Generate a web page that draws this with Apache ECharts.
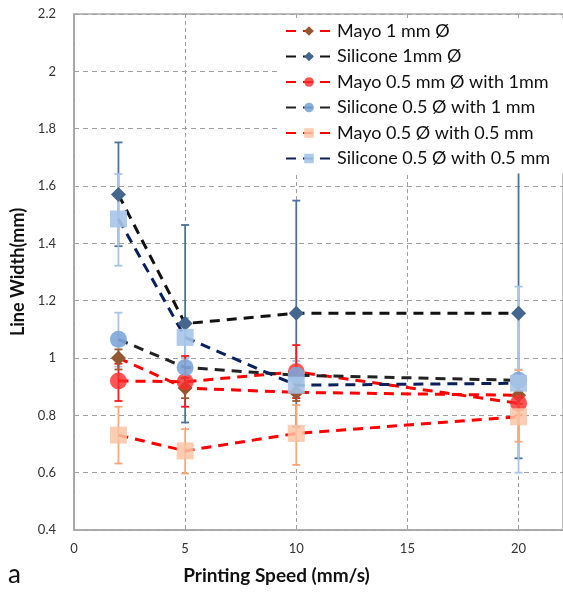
<!DOCTYPE html>
<html>
<head>
<meta charset="utf-8">
<script src="https://cdn.jsdelivr.net/npm/echarts@6/dist/echarts.min.js"></script>
<style>
  html, body { margin: 0; padding: 0; background: #fff; }
  #chart { width: 563px; height: 592px; }
</style>
</head>
<body>
<div id="chart"></div>
<script>
// printing speeds (mm/s)
const speeds = [2, 5, 10, 20];

// mean line widths (mm)
const mayo1mm = [1.0, 0.895, 0.88, 0.87];
const silicone1mm = [1.57, 1.12, 1.156, 1.156];
const mayo05w1 = [0.92, 0.917, 0.952, 0.842];
const silicone05w1 = [1.065, 0.967, 0.94, 0.922];
const mayo05w05 = [0.731, 0.676, 0.737, 0.795];
const silicone05w05 = [1.485, 1.072, 0.905, 0.912];

// error bars [low, high]
const errMayo1mm = [[0.96, 1.03], [0.86, 0.93], [0.85, 0.91], [0.84, 0.9]];
const errSilicone1mm = [[1.39, 1.752], [0.775, 1.464], [0.76, 1.549], [0.65, 1.66]];
const errMayo05w1 = [[0.85, 0.98], [0.83, 1.007], [0.86, 1.045], [0.8, 0.885]];
const errSilicone05w1 = [[0.97, 1.158], [0.93, 1.0], [0.9, 0.99], [0.88, 0.96]];
const errMayo05w05 = [[0.632, 0.83], [0.597, 0.752], [0.627, 0.836], [0.708, 0.958]];
const errSilicone05w05 = [[1.322, 1.642], [1.0, 1.14], [0.86, 0.95], [0.6, 1.249]];

const font = "Lato, 'Open Sans', sans-serif";

function pairs(vals) {
  return speeds.map((s, i) => [s, vals[i]]);
}

function errSeries(err, color) {
  return {
    type: "custom",
    silent: true,
    z: 1,
    data: speeds.map((s, i) => [s, err[i][0], err[i][1]]),
    renderItem(params, api) {
      const x = api.value(0);
      const lo = api.coord([x, api.value(1)]);
      const hi = api.coord([x, api.value(2)]);
      const w = 4;
      const style = { stroke: color, lineWidth: 1.8, fill: null };
      return {
        type: "group",
        children: [
          { type: "line", shape: { x1: lo[0], y1: lo[1], x2: hi[0], y2: hi[1] }, style },
          { type: "line", shape: { x1: lo[0] - w, y1: lo[1], x2: lo[0] + w, y2: lo[1] }, style },
          { type: "line", shape: { x1: hi[0] - w, y1: hi[1], x2: hi[0] + w, y2: hi[1] }, style }
        ]
      };
    }
  };
}

function lineSeries(name, vals, lineColor, symbol, size, markColor, opacity) {
  return {
    name: name,
    type: "line",
    z: 3,
    data: pairs(vals),
    symbol: symbol,
    symbolSize: size,
    lineStyle: { color: lineColor, width: 3, type: [10, 7] },
    itemStyle: { color: markColor, opacity: opacity, borderWidth: 0 }
  };
}

const names = [
  "Mayo 1 mm Ø",
  "Silicone 1mm Ø",
  "Mayo 0.5 mm Ø with 1mm",
  "Silicone 0.5 Ø with 1 mm",
  "Mayo 0.5 Ø with 0.5 mm",
  "Silicone 0.5 Ø with 0.5 mm"
];

let myEcharts = echarts.init(document.getElementById("chart"));
let option = {
  animation: false,
  grid: { left: 74, right: -3, top: 14, bottom: 62, show: true, borderColor: "#a6a6a6", borderWidth: 1.5 },
  legend: {
    data: names,
    orient: "vertical",
    left: 279,
    top: 18,
    itemGap: 7.5,
    itemWidth: 46,
    itemHeight: 12,
    backgroundColor: "#fff",
    padding: [4, 20, 6, 6],
    textStyle: { fontFamily: font, fontSize: 18, color: "#111" }
  },
  xAxis: {
    type: "value",
    min: 0,
    max: 22,
    interval: 5,
    name: "Printing Speed (mm/s)",
    nameLocation: "middle",
    nameGap: 36,
    nameTextStyle: { fontFamily: font, fontSize: 19, fontWeight: "bold", color: "#111", padding: [0, 84, 0, 0] },
    axisLine: { show: true, lineStyle: { color: "#a6a6a6", width: 1.5 } },
    axisTick: { show: false },
    axisLabel: { fontFamily: font, fontSize: 13, color: "#333", margin: 12, showMaxLabel: false },
    splitLine: { show: true, lineStyle: { color: "#a0a0a0", type: [4, 3], width: 1 } }
  },
  yAxis: {
    type: "value",
    min: 0.4,
    max: 2.2,
    interval: 0.2,
    name: "Line Width(mm)",
    nameLocation: "middle",
    nameGap: 46,
    nameTextStyle: { fontFamily: font, fontSize: 18, fontWeight: "bold", color: "#111" },
    axisLine: { show: true, lineStyle: { color: "#a6a6a6", width: 1.5 } },
    axisTick: { show: false },
    axisLabel: {
      fontFamily: font, fontSize: 13, color: "#333", margin: 18,
      formatter: v => String(Math.round(v * 10) / 10)
    },
    splitLine: { show: true, lineStyle: { color: "#a0a0a0", type: [5, 4], width: 1 } }
  },
  graphic: [
    { type: "text", left: 8, top: 562, style: { text: "a", fontFamily: font, fontSize: 26, fill: "#111" } }
  ],
  series: [
    errSeries(errSilicone1mm, "#4f7199"),
    errSeries(errSilicone05w05, "#a9c5e6"),
    errSeries(errSilicone05w1, "#a9c5e6"),
    errSeries(errMayo05w1, "#ff1a1a"),
    errSeries(errMayo1mm, "#9a5a32"),
    errSeries(errMayo05w05, "#f7a97a"),
    lineSeries(names[0], mayo1mm, "#ff0000", "diamond", 15, "#93582f", 1),
    lineSeries(names[1], silicone1mm, "#111111", "diamond", 15, "#44668f", 1),
    lineSeries(names[2], mayo05w1, "#ff0000", "circle", 17, "#ff2a2a", 0.8),
    lineSeries(names[3], silicone05w1, "#222222", "circle", 17, "#7ea6d8", 0.9),
    lineSeries(names[4], mayo05w05, "#ff0000", "rect", 17, "#fbc4a3", 0.85),
    lineSeries(names[5], silicone05w05, "#0b1f5a", "rect", 17, "#a6c4e8", 0.9)
  ]
};
myEcharts.setOption(option);
</script>
</body>
</html>
